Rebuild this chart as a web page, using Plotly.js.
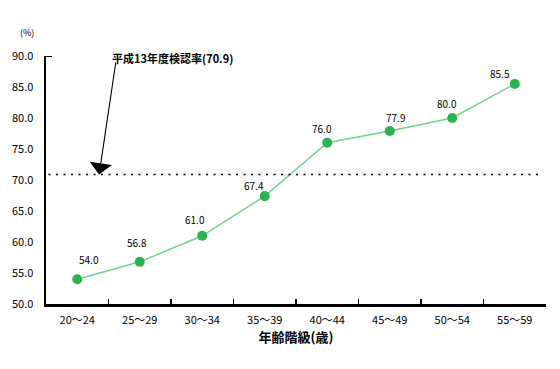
<!DOCTYPE html>
<html><head><meta charset="utf-8">
<script src="https://cdn.plot.ly/plotly-3.0.1.min.js"></script>
<style>body{margin:0;background:#fff}#c{width:560px;height:369px}</style>
</head><body><div id="c"></div>
<script>
const categories = ["20～24","25～29","30～34","35～39","40～44","45～49","50～54","55～59"];
const rates = [54.0, 56.8, 61.0, 67.4, 76.0, 77.9, 80.0, 85.5];
const refRate = 70.9;
const refLabel = "平成13年度検認率(70.9)";
const yTicks = [50,55,60,65,70,75,80,85,90];
const labelDx = [12,-3,-7,-11,-5,6,-5,-15];
const labelDy = [20,19,16,11,14,14,15,10];

const F = "'Noto Sans CJK JP', 'DejaVu Sans', sans-serif";
const trace = {
  x: categories, y: rates, type: 'scatter', mode: 'lines+markers',
  line: {color: '#72d38e', width: 1.5},
  marker: {color: '#2bb350', size: 10},
  hoverinfo: 'skip', cliponaxis: false
};
const ann = rates.map((v,i)=>({
  x: categories[i], y: v, xref:'x', yref:'y', text: v.toFixed(1), showarrow:false,
  yshift: labelDy[i], xshift: labelDx[i], font:{family:F, size:10, color:'#000'}
}));
ann.push({
  x: 0.35, y: refRate, xref:'x', yref:'y', ax: 0.62, ay: 89.2, axref:'x', ayref:'y',
  showarrow:true, arrowhead:1, arrowsize:3.4, arrowwidth:1.1, arrowcolor:'#000', text:''
});
ann.push({x: 0.53, y: 89.6, xref:'x', yref:'y', text: refLabel, showarrow:false, xanchor:'left',
  font:{family:F, size:11, color:'#000', weight:'bold'}});
ann.push({x: 0.0, y: 1.0, xref:'paper', yref:'paper', xshift:-19, yshift:32, text:'(%)', showarrow:false,
  xanchor:'center', font:{family:F,size:9,color:'#000'}});

const layout = {
  width:560, height:369, margin:{l:46, r:14, t:56, b:65},
  paper_bgcolor:'#fff', plot_bgcolor:'#fff', showlegend:false,
  xaxis:{type:'category', range:[-0.5,7.5], showgrid:false, zeroline:false,
    showline:true, linecolor:'#000', linewidth:2.5,
    ticks:'inside', tickson:'boundaries', ticklen:5, tickcolor:'#000', tickwidth:1.5,
    ticklabelstandoff:4,
    tickfont:{family:F, size:11, color:'#000'},
    title:{text:'年齢階級(歳)', font:{family:F, size:13, color:'#000', weight:'bold'}, standoff:6}},
  yaxis:{range:[50,90], tickvals:yTicks, tickformat:'.1f', showgrid:false, zeroline:false,
    showline:true, linecolor:'#000', linewidth:2.5, ticks:'', ticklabelstandoff:8,
    tickfont:{family:F, size:11, color:'#000'}},
  shapes:[
    {type:'line', xref:'paper', x0:0.005, x1:0.995, yref:'y', y0:refRate, y1:refRate,
     line:{color:'#000', width:1.5, dash:'2px,5.5px'}},
    {type:'line', xref:'paper', x0:0, x1:0.012, yref:'y', y0:90, y1:90, line:{color:'#000', width:2}}
  ],
  annotations: ann
};
Plotly.newPlot('c', [trace], layout, {staticPlot:true});
</script></body></html>
